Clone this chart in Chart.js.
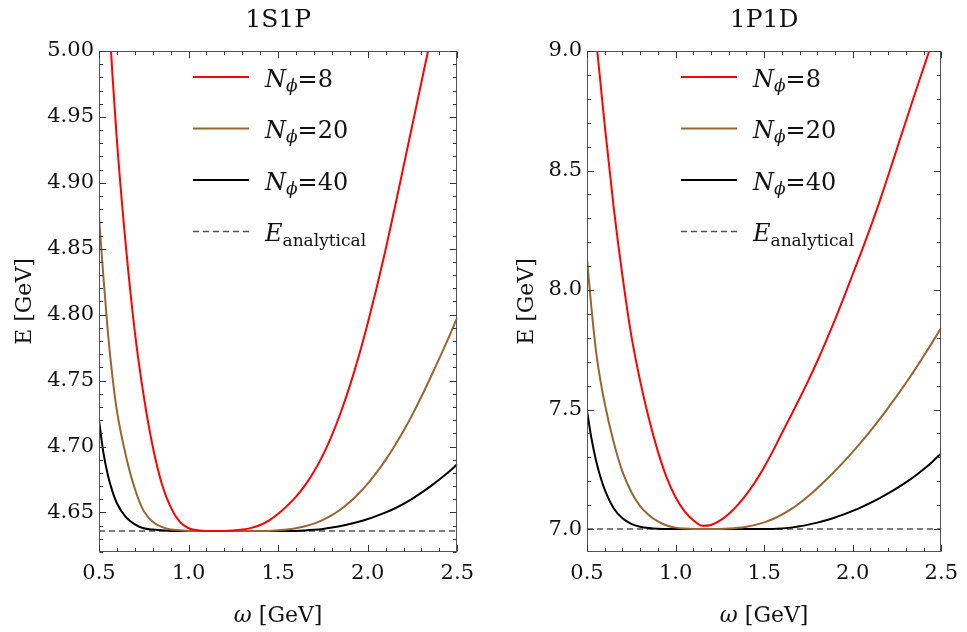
<!DOCTYPE html>
<html lang="en">
<head>
<meta charset="UTF-8">
<script src="https://cdn.jsdelivr.net/npm/chart.js"></script>
<style>
  body { margin: 0; background: #fff; }
  .panel { position: absolute; top: 0; height: 632px; }
</style>
</head>
<body>
<div class="panel" style="left:0;width:483px"><canvas id="chart1S1P" width="483" height="632"></canvas></div>
<div class="panel" style="left:483px;width:484px"><canvas id="chart1P1D" width="484" height="632"></canvas></div>
<script>
// oscillator frequency omega [GeV]
const omega = [0.5, 0.525, 0.55, 0.575, 0.6, 0.65, 0.7, 0.75, 0.8, 0.85, 0.9, 0.95,
  1.0, 1.05, 1.1, 1.15, 1.2, 1.25, 1.3, 1.35, 1.4, 1.45, 1.5, 1.55, 1.6, 1.65, 1.7, 1.75,
  1.8, 1.85, 1.9, 1.95, 2.0, 2.05, 2.1, 2.15, 2.2, 2.25, 2.3, 2.35, 2.4, 2.45, 2.5];

// 1S1P energies [GeV]
const e1S1P_n8 = [5.20, 5.11, 5.04, 4.982, 4.932, 4.852, 4.787, 4.738, 4.700, 4.672, 4.654, 4.643,
  4.638, 4.6365, 4.636, 4.636, 4.636, 4.6363, 4.637, 4.6383, 4.6405, 4.644, 4.649, 4.655, 4.662, 4.6705, 4.681, 4.6935,
  4.7085, 4.726, 4.746, 4.7685, 4.7935, 4.8205, 4.8495, 4.8805, 4.9125, 4.9445, 4.9765, 5.0085, 5.0405, 5.0725, 5.1045];
const e1S1P_n20 = [4.874, 4.828, 4.786, 4.753, 4.727, 4.693, 4.668, 4.651, 4.643, 4.639, 4.637, 4.6365,
  4.636, 4.636, 4.636, 4.636, 4.636, 4.636, 4.636, 4.636, 4.636, 4.636, 4.6365, 4.637, 4.638, 4.6395, 4.6415, 4.6443,
  4.6479, 4.6524, 4.6579, 4.6644, 4.6719, 4.6804, 4.6899, 4.7004, 4.7119, 4.7244, 4.7379, 4.7522, 4.767, 4.782, 4.798];
const e1S1P_n40 = [4.720, 4.695, 4.678, 4.666, 4.657, 4.6465, 4.641, 4.638, 4.637, 4.6365, 4.636, 4.636,
  4.636, 4.636, 4.636, 4.636, 4.636, 4.636, 4.636, 4.636, 4.636, 4.636, 4.636, 4.636, 4.636, 4.6363, 4.6368, 4.6375,
  4.6385, 4.6397, 4.6412, 4.643, 4.645, 4.6474, 4.650, 4.653, 4.6565, 4.6605, 4.665, 4.6698, 4.675, 4.6805, 4.6865];
const e1S1P_exact = 4.636;

// 1P1D energies [GeV]
const e1P1D_n8 = [9.50, 9.28, 9.06, 8.875, 8.69, 8.35, 8.06, 7.81, 7.62, 7.46, 7.325, 7.215,
  7.133, 7.075, 7.037, 7.0135, 7.017, 7.035, 7.063, 7.100, 7.145, 7.198, 7.259, 7.327, 7.401, 7.473, 7.546, 7.622,
  7.702, 7.787, 7.876, 7.969, 8.066, 8.162, 8.262, 8.367, 8.478, 8.592, 8.706, 8.819, 8.930, 9.040, 9.150];
const e1P1D_n20 = [8.13, 7.925, 7.75, 7.625, 7.525, 7.365, 7.24, 7.155, 7.096, 7.058, 7.032, 7.015,
  7.006, 7.002, 7.0, 7.0, 7.0, 7.0005, 7.002, 7.005, 7.010, 7.0175, 7.028, 7.042, 7.060, 7.082, 7.108, 7.138,
  7.171, 7.206, 7.243, 7.282, 7.323, 7.366, 7.411, 7.458, 7.507, 7.558, 7.611, 7.666, 7.723, 7.782, 7.843];
const e1P1D_n40 = [7.494, 7.38, 7.29, 7.22, 7.165, 7.088, 7.045, 7.022, 7.01, 7.004, 7.001, 7.0,
  7.0, 7.0, 7.0, 7.0, 7.0, 7.0, 7.0, 7.0, 7.0, 7.0, 7.0, 7.0, 7.002, 7.006, 7.0115, 7.0185,
  7.027, 7.037, 7.0485, 7.0615, 7.076, 7.092, 7.1095, 7.1285, 7.149, 7.171, 7.195, 7.221, 7.250, 7.282, 7.317];
const e1P1D_exact = 7.0;

const basisSizes = [8, 20, 40];
const curveColors = ['#ff0000', '#996633', '#000000'];
const SERIF = '"DejaVu Serif", serif';

function drawRuns(ctx, runs, x, y, align) {
  let w = 0;
  runs.forEach(r => { ctx.font = r.font; w += ctx.measureText(r.text).width; });
  let cx = align === 'center' ? x - w / 2 : x;
  runs.forEach(r => {
    ctx.font = r.font;
    ctx.fillText(r.text, cx, y + (r.dy || 0));
    cx += ctx.measureText(r.text).width;
  });
}

// frame with inward major/minor ticks on all four sides, plus titles and legend
const decorPlugin = {
  id: 'decor',
  afterDatasetsDraw(chart, args, o) {
    const { ctx, chartArea: a, scales: { x, y } } = chart;
    const L = Math.round(a.left) + 0.5, R = Math.round(a.right) - 0.5;
    const T = Math.round(a.top) + 0.5, B = Math.round(a.bottom) - 0.5;
    ctx.save();
    ctx.strokeStyle = '#555';
    ctx.lineWidth = 1;
    ctx.strokeRect(L, T, R - L, B - T);
    ctx.strokeStyle = '#333';
    ctx.beginPath();
    const xs = o.xTicks, ys = o.yTicks;
    for (let k = Math.ceil(x.min / xs.minor - 1e-6); k * xs.minor <= x.max + 1e-9; k++) {
      const v = k * xs.minor;
      const major = Math.abs(v / xs.major - Math.round(v / xs.major)) < 1e-6;
      const len = major ? 6.5 : 3.5;
      const px = Math.round(x.getPixelForValue(v)) + 0.5;
      ctx.moveTo(px, B); ctx.lineTo(px, B - len);
      ctx.moveTo(px, T); ctx.lineTo(px, T + len);
    }
    for (let k = Math.ceil(y.min / ys.minor - 1e-6); k * ys.minor <= y.max + 1e-9; k++) {
      const v = k * ys.minor;
      const major = Math.abs(v / ys.major - Math.round(v / ys.major)) < 1e-6;
      const len = major ? 6.5 : 3.5;
      const py = Math.round(y.getPixelForValue(v)) + 0.5;
      ctx.moveTo(L, py); ctx.lineTo(L + len, py);
      ctx.moveTo(R, py); ctx.lineTo(R - len, py);
    }
    ctx.stroke();

    // legend
    const lx = a.left + 94, tx = a.left + 166;
    chart.data.datasets.forEach((ds, i) => {
      const ry = a.top + 26 + i * 51.5;
      ctx.strokeStyle = ds.borderColor;
      ctx.lineWidth = ds.borderDash ? 1.5 : 2;
      ctx.setLineDash(ds.borderDash || []);
      ctx.beginPath();
      ctx.moveTo(lx, ry); ctx.lineTo(lx + 56, ry);
      ctx.stroke();
      ctx.setLineDash([]);
      ctx.fillStyle = '#111';
      ctx.textAlign = 'left';
      ctx.textBaseline = 'alphabetic';
      drawRuns(ctx, ds.legendRuns, tx, ry + 9.5);
    });

    // panel title and axis titles
    const cx = (a.left + a.right) / 2;
    ctx.fillStyle = '#111';
    ctx.textAlign = 'left';
    drawRuns(ctx, [{ text: o.title, font: '25px ' + SERIF }], cx, 27, 'center');
    drawRuns(ctx, [
      { text: 'ω', font: 'italic 22px ' + SERIF },
      { text: ' [GeV]', font: '22px ' + SERIF }
    ], cx, 622, 'center');
    ctx.translate(o.yTitleX, (a.top + a.bottom) / 2);
    ctx.rotate(-Math.PI / 2);
    ctx.textAlign = 'center';
    ctx.font = '22px ' + SERIF;
    ctx.fillText('E [GeV]', 0, 0);
    ctx.restore();
  }
};

function curve(vals, i) {
  return {
    label: 'Nϕ=' + basisSizes[i],
    data: omega.map((w, k) => ({ x: w, y: vals[k] })),
    borderColor: curveColors[i],
    borderWidth: 2,
    pointRadius: 0,
    cubicInterpolationMode: 'monotone',
    legendRuns: [
      { text: 'N', font: 'italic 24px ' + SERIF },
      { text: 'ϕ', font: 'italic 17px ' + SERIF, dy: 4 },
      { text: '=' + basisSizes[i], font: '24px ' + SERIF }
    ]
  };
}

function makePanel(id, p) {
  const datasets = [
    curve(p.n8, 0), curve(p.n20, 1), curve(p.n40, 2),
    {
      label: 'E analytical',
      data: [{ x: omega[0], y: p.exact }, { x: omega[omega.length - 1], y: p.exact }],
      borderColor: '#555',
      borderWidth: 1.5,
      borderDash: [6, 4],
      pointRadius: 0,
      legendRuns: [
        { text: 'E', font: 'italic 24px ' + SERIF },
        { text: 'analytical', font: '17px ' + SERIF, dy: 4.5 }
      ]
    }
  ];
  new Chart(document.getElementById(id), {
    type: 'line',
    data: { datasets },
    plugins: [decorPlugin],
    options: {
      responsive: false,
      animation: false,
      layout: { padding: { left: 0, right: p.padRight, top: 51, bottom: 0 } },
      plugins: {
        legend: { display: false },
        tooltip: { enabled: false },
        decor: { title: p.title, yTitleX: p.yTitleX, xTicks: { major: 0.5, minor: 0.1 }, yTicks: p.yTicks }
      },
      scales: {
        x: {
          type: 'linear', min: 0.5, max: 2.5,
          grid: { display: false, drawTicks: false },
          border: { display: false },
          ticks: { stepSize: 0.5, padding: 9, color: '#111', font: { family: SERIF, size: 21 },
            callback: v => v.toFixed(1) },
          afterFit: s => { s.height = 80; }
        },
        y: {
          min: p.yMin, max: p.yMax,
          grid: { display: false, drawTicks: false },
          border: { display: false },
          ticks: { stepSize: p.yTicks.major, includeBounds: false, padding: 5, color: '#111',
            font: { family: SERIF, size: 21 }, callback: v => v.toFixed(p.digits) },
          afterFit: s => { s.width = p.yWidth; }
        }
      }
    }
  });
}

makePanel('chart1S1P', {
  title: '1S1P', n8: e1S1P_n8, n20: e1S1P_n20, n40: e1S1P_n40, exact: e1S1P_exact,
  yMin: 4.62, yMax: 5.0, digits: 2, yTicks: { major: 0.05, minor: 0.01 },
  yWidth: 99, padRight: 25, yTitleX: 31
});
makePanel('chart1P1D', {
  title: '1P1D', n8: e1P1D_n8, n20: e1P1D_n20, n40: e1P1D_n40, exact: e1P1D_exact,
  yMin: 6.904, yMax: 9.0, digits: 1, yTicks: { major: 0.5, minor: 0.1 },
  yWidth: 104, padRight: 21, yTitleX: 50
});
</script>
</body>
</html>
